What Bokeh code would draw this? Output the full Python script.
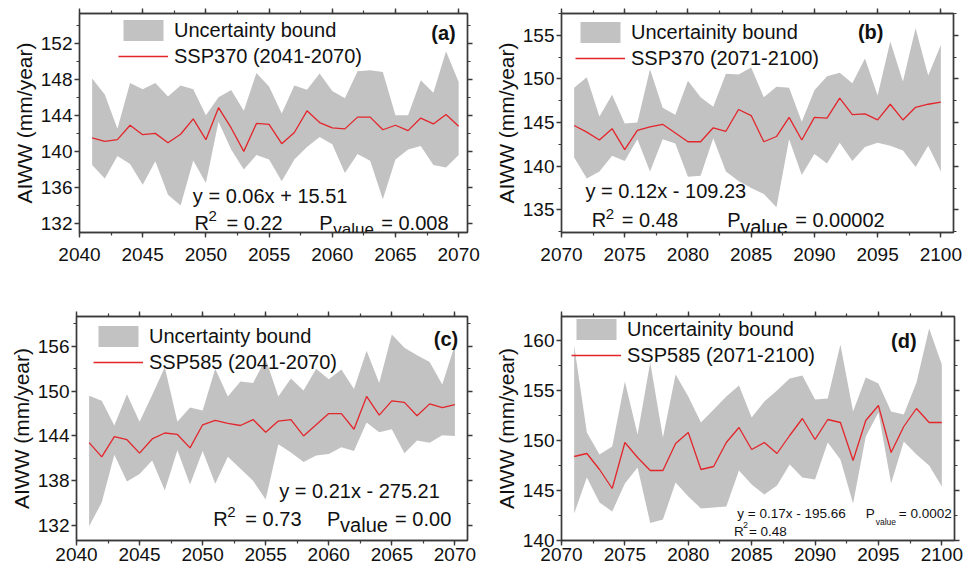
from bokeh.plotting import figure
from bokeh.models import Range1d, LinearAxis, FixedTicker, Legend, LegendItem, Label, CustomJSTickFormatter
from bokeh.layouts import column, row
from bokeh.core.properties import value
from bokeh.embed import file_html
from bokeh.resources import INLINE

# ---------------- data ----------------
years_a = list(range(2041, 2071))
years_b = list(range(2071, 2101))

mean_a = [141.5, 141.1, 141.3, 142.9, 141.85, 142.0, 140.95, 141.9, 143.6, 141.3,
          144.85, 142.6, 140.0, 143.1, 143.0, 140.85, 142.1, 144.5, 143.2, 142.6,
          142.5, 143.8, 143.8, 142.4, 142.9, 142.3, 143.7, 143.05, 144.1, 142.8]
upper_a = [148.1, 146.3, 142.5, 147.6, 146.9, 147.6, 146.1, 147.3, 146.9, 144.0,
           146.0, 146.8, 144.5, 148.7, 147.2, 144.2, 147.3, 146.85, 148.65, 146.7,
           145.9, 148.9, 149.0, 148.8, 144.0, 144.0, 147.9, 146.5, 151.1, 147.7]
lower_a = [138.5, 137.0, 139.5, 138.6, 136.3, 138.9, 135.2, 134.0, 139.0, 136.5,
           143.3, 140.2, 138.0, 139.6, 139.1, 136.7, 139.1, 140.5, 141.6, 140.8,
           137.6, 139.7, 138.95, 134.7, 139.1, 140.2, 140.6, 138.5, 138.2, 139.6]

mean_b = [144.66, 143.9, 143.0, 144.3, 141.9, 144.1, 144.5, 144.8, 143.8, 142.8,
          142.8, 144.4, 144.0, 146.5, 145.8, 142.8, 143.4, 145.6, 143.0, 145.6,
          145.5, 147.8, 145.9, 146.0, 145.3, 147.1, 145.3, 146.75, 147.1, 147.35]
upper_b = [149.0, 150.2, 145.7, 148.2, 144.9, 145.0, 151.1, 146.7, 145.9, 149.8,
           147.9, 146.8, 150.6, 150.5, 151.3, 147.9, 149.1, 149.0, 145.1, 148.7,
           150.3, 150.7, 149.5, 152.35, 148.1, 154.3, 149.7, 155.8, 150.4, 153.9]
lower_b = [141.0, 138.6, 139.4, 141.2, 140.6, 143.1, 139.4, 143.1, 142.6, 138.8,
           138.9, 143.2, 139.4, 138.3, 137.5, 136.8, 135.3, 143.1, 139.0, 141.4,
           140.3, 142.7, 140.6, 142.2, 142.7, 142.35, 141.8, 139.9, 142.35, 139.4]

mean_c = [143.1, 141.2, 143.9, 143.5, 141.7, 143.6, 144.4, 144.2, 142.4, 145.5,
          146.1, 145.7, 145.4, 146.2, 144.5, 146.0, 146.2, 144.0, 145.5, 147.0,
          147.0, 144.9, 149.3, 146.8, 148.7, 148.5, 146.7, 148.3, 147.8, 148.2]
upper_c = [149.4, 148.7, 145.4, 149.6, 145.9, 149.5, 153.2, 145.9, 147.8, 147.4,
           153.0, 149.3, 151.3, 151.1, 154.3, 149.3, 151.7, 150.1, 153.0, 151.6,
           152.9, 150.3, 155.4, 151.1, 157.6, 155.8, 154.8, 153.9, 150.9, 156.2]
lower_c = [131.9, 135.1, 141.5, 137.9, 138.9, 140.7, 136.7, 142.1, 137.5, 142.0,
           137.6, 141.2, 139.6, 138.0, 135.5, 142.9, 141.8, 140.5, 141.4, 141.6,
           142.5, 142.0, 145.8, 144.5, 144.9, 141.7, 143.4, 143.1, 144.1, 144.0]

mean_d = [148.4, 148.7, 147.1, 145.2, 149.8, 148.3, 147.0, 147.0, 149.7, 150.8,
          147.1, 147.4, 149.8, 151.3, 149.1, 149.8, 148.7, 150.5, 152.2, 150.1,
          152.1, 151.8, 148.0, 152.0, 153.5, 148.8, 151.4, 153.2, 151.8, 151.8]
upper_d = [159.5, 150.8, 148.6, 149.4, 155.9, 150.6, 157.8, 150.3, 156.6, 154.4,
           151.8, 153.1, 154.4, 155.5, 152.3, 153.9, 155.0, 156.2, 156.5, 154.1,
           154.2, 159.6, 152.9, 156.3, 155.7, 152.9, 152.6, 155.8, 161.2, 157.6]
lower_d = [142.7, 146.3, 143.8, 142.9, 145.7, 147.3, 141.75, 142.1, 145.8, 144.4,
           143.2, 143.3, 143.4, 147.0, 145.6, 144.6, 145.5, 147.6, 146.3, 146.1,
           149.8, 148.1, 143.7, 150.4, 152.8, 145.7, 149.9, 148.6, 147.5, 145.4]

xticks_a = [2040, 2045, 2050, 2055, 2060, 2065, 2070]
xticks_b = [2070, 2075, 2080, 2085, 2090, 2095, 2100]
yticks_a = [132, 136, 140, 144, 148, 152]
yticks_b = [135, 140, 145, 150, 155]
yticks_c = [132, 138, 144, 150, 156]
yticks_d = [140, 145, 150, 155, 160]

legend_band_a = "Uncertainty bound"
legend_band_b = "Uncertainity bound"
series_a = "SSP370 (2041-2070)"
series_b = "SSP370 (2071-2100)"
series_c = "SSP585 (2041-2070)"
series_d = "SSP585 (2071-2100)"
ylabel = "AIWW (mm/year)"

# ---------------- style ----------------
FONT = "Liberation Sans"
FRAME = "#3a3a3a"
GRAY = "#c2c2c2"
RED = "#e3262b"
TXT = "#111111"


def minors(ticks, lo, hi):
    step = ticks[1] - ticks[0]
    out = []
    t = ticks[0] - step
    while t <= ticks[-1] + step:
        for v in (t, t + step / 2.0):
            if lo <= v <= hi:
                out.append(v)
        t += step
    return out


def style_axis(ax, labels, standoff=2, size="19px"):
    ax.axis_line_color = FRAME
    ax.axis_line_width = 1.4
    ax.major_tick_line_color = FRAME
    ax.major_tick_line_width = 1.4
    ax.minor_tick_line_color = FRAME
    ax.minor_tick_line_width = 1.2
    ax.major_tick_in = 0
    ax.minor_tick_in = 0
    ax.major_tick_out = 5
    ax.minor_tick_out = 3
    ax.major_label_text_font = FONT
    ax.major_label_text_color = TXT
    ax.major_label_text_font_size = size
    if labels:
        ax.major_label_standoff = standoff
    else:
        ax.formatter = CustomJSTickFormatter(code="return ''")
        ax.major_label_standoff = 0


def make_panel(width, height, borders, xr, yr, xticks, yticks, xstandoff):
    left, right, top, bottom = borders
    p = figure(width=width, height=height, output_backend="svg", toolbar_location=None,
               x_range=Range1d(*xr), y_range=Range1d(*yr),
               min_border_left=left, min_border_right=right,
               min_border_top=top, min_border_bottom=bottom)
    p.xgrid.visible = False
    p.ygrid.visible = False
    p.outline_line_color = FRAME
    p.outline_line_width = 1.4
    p.background_fill_color = "white"
    p.border_fill_color = "white"
    xt = FixedTicker(ticks=xticks, minor_ticks=minors(xticks, *xr))
    yt = FixedTicker(ticks=yticks, minor_ticks=minors(yticks, *yr))
    p.xaxis.ticker = xt
    p.yaxis.ticker = yt
    style_axis(p.xaxis[0], True, standoff=xstandoff)
    style_axis(p.yaxis[0], True)
    p.yaxis.axis_label = ylabel
    p.yaxis.axis_label_text_font = FONT
    p.yaxis.axis_label_text_font_size = "21px"
    p.yaxis.axis_label_text_font_style = "normal"
    p.yaxis.axis_label_text_color = TXT
    p.yaxis.axis_label_standoff = 2
    ra = LinearAxis(ticker=yt)
    style_axis(ra, False)
    p.add_layout(ra, "right")
    ta = LinearAxis(ticker=xt)
    style_axis(ta, False)
    p.add_layout(ta, "above")
    return p


def draw(p, years, lo, hi, mean, band_label, line_label, legend_xy):
    band = p.varea(x=years, y1=lo, y2=hi, fill_color=GRAY, fill_alpha=1.0)
    ln = p.line(x=years, y=mean, line_color=RED, line_width=1.3)
    leg = Legend(items=[LegendItem(label=value(band_label), renderers=[band]),
                        LegendItem(label=value(line_label), renderers=[ln])],
                 location=legend_xy, padding=0, margin=0, spacing=0,
                 glyph_width=50, glyph_height=26, label_height=26, label_standoff=6,
                 label_text_font=FONT, label_text_font_size="20px", label_text_color=TXT,
                 border_line_color=None, background_fill_alpha=0)
    p.add_layout(leg)


def txt(p, x, y, text, size, dx=0, dy=0, bold=False, align="left"):
    p.add_layout(Label(x=x, y=y, x_offset=dx, y_offset=dy, text=text,
                       text_font=FONT, text_font_size=size, text_color=TXT,
                       text_font_style="bold" if bold else "normal",
                       text_align=align, text_baseline="middle"))


def stats(p, eq_xy, eq, r_xy, r_val, r_off, p_xy, p_val, p_off, sizes):
    main, sup, sub = sizes
    txt(p, eq_xy[0], eq_xy[1], eq, main)
    txt(p, r_xy[0], r_xy[1], "R", main)
    txt(p, r_xy[0], r_xy[1], "2", sup, dx=r_off[0], dy=r_off[1])
    txt(p, r_xy[0], r_xy[1], "= " + r_val, main, dx=r_off[2])
    txt(p, p_xy[0], p_xy[1], "P", main)
    txt(p, p_xy[0], p_xy[1], "value", sub, dx=p_off[0], dy=p_off[1])
    txt(p, p_xy[0], p_xy[1], "= " + p_val, main, dx=p_off[2])


# ---------------- panel (a) ----------------
pa = make_panel(488, 306, (79, 21, 13, 74), (2040, 2070.7), (131, 155.3), xticks_a, yticks_a, 10)
draw(pa, years_a, lower_a, upper_a, mean_a, legend_band_a, series_a, (39, 163))
txt(pa, 2068.8, 153.1, "(a)", "20px", bold=True, align="center")
stats(pa, (2048.97, 135.1), "y = 0.06x + 15.51", (2049.1, 132.05), "0.22", (14, 7, 32),
      (2058.97, 132.05), "0.008", (14, -6, 62), ("20px", "15px", "17px"))

# ---------------- panel (b) ----------------
pb = make_panel(478, 306, (73, 13, 13, 74), (2070, 2101), (132.4, 157.5), xticks_b, yticks_b, 10)
draw(pb, years_b, lower_b, upper_b, mean_b, legend_band_b, series_b, (14, 161))
txt(pb, 2094.45, 155.4, "(b)", "20px", bold=True, align="center")
stats(pb, (2071.9, 137.16), "y = 0.12x - 109.23", (2072.4, 133.8), "0.48", (14, 6, 30),
      (2083.1, 133.8), "0.00002", (13, -7, 68), ("20px", "15px", "20px"))

# ---------------- panel (c) ----------------
pc = make_panel(488, 264, (76, 21, 10, 30), (2040, 2071), (130, 160), xticks_a, yticks_c, 2)
draw(pc, years_a, lower_c, upper_c, mean_c, legend_band_a, series_c, (17, 165))
txt(pc, 2069.3, 156.97, "(c)", "20px", bold=True, align="center")
stats(pc, (2056.07, 136.68), "y = 0.21x - 275.21", (2050.85, 132.94), "0.73", (14, 7, 32),
      (2059.87, 132.94), "0.00", (13, -6, 68), ("20px", "15px", "20px"))

# ---------------- panel (d) ----------------
pd_ = make_panel(478, 264, (73, 12, 10, 30), (2070, 2101), (140, 162.4), xticks_b, yticks_d, 2)
draw(pd_, years_b, lower_d, upper_d, mean_d, legend_band_b, series_d, (10, 172))
txt(pd_, 2097.0, 160.0, "(d)", "20px", bold=True, align="center")
stats(pd_, (2083.87, 142.7), "y = 0.17x - 195.66", (2083.6, 140.92), "0.48", (9, 6, 15),
      (2094.0, 142.7), "0.0002", (10, -8, 33), ("13.5px", "9px", "8.5px"))

layout = column(row(pa, pb, spacing=0), row(pc, pd_, spacing=0), spacing=0)

open("out.html", "w").write(file_html(layout, INLINE))
